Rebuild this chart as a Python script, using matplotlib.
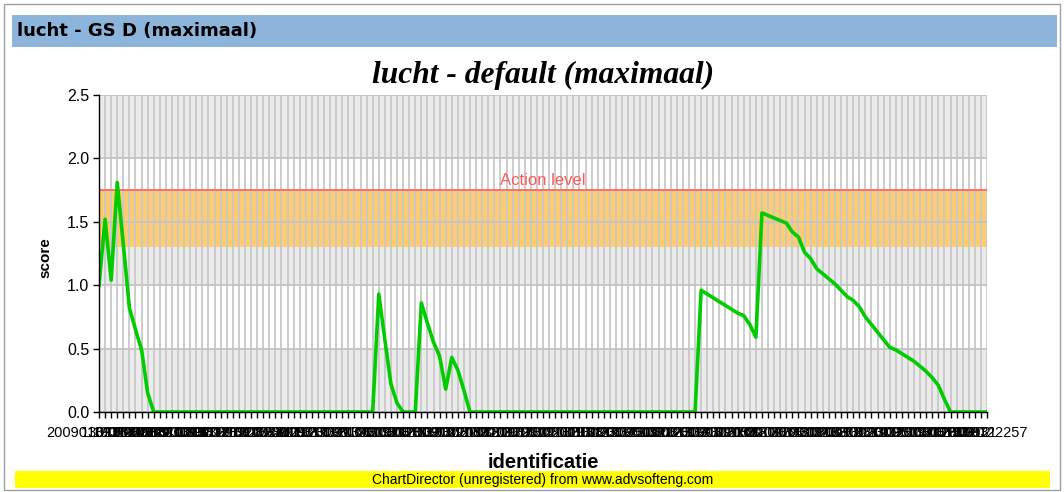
import matplotlib
matplotlib.use("Agg")
import matplotlib.pyplot as plt
from matplotlib.patches import Rectangle

# data
scores = [
    1.00, 1.52, 1.04, 1.81, 1.32, 0.82, 0.65, 0.49, 0.15, 0.00,
    0.00, 0.00, 0.00, 0.00, 0.00, 0.00, 0.00, 0.00, 0.00, 0.00,
    0.00, 0.00, 0.00, 0.00, 0.00, 0.00, 0.00, 0.00, 0.00, 0.00,
    0.00, 0.00, 0.00, 0.00, 0.00, 0.00, 0.00, 0.00, 0.00, 0.00,
    0.00, 0.00, 0.00, 0.00, 0.00, 0.00, 0.93, 0.57, 0.22, 0.07,
    0.00, 0.00, 0.00, 0.86, 0.70, 0.55, 0.44, 0.18, 0.43, 0.33,
    0.17, 0.00, 0.00, 0.00, 0.00, 0.00, 0.00, 0.00, 0.00, 0.00,
    0.00, 0.00, 0.00, 0.00, 0.00, 0.00, 0.00, 0.00, 0.00, 0.00,
    0.00, 0.00, 0.00, 0.00, 0.00, 0.00, 0.00, 0.00, 0.00, 0.00,
    0.00, 0.00, 0.00, 0.00, 0.00, 0.00, 0.00, 0.00, 0.00, 0.96,
    0.93, 0.90, 0.87, 0.84, 0.81, 0.78, 0.76, 0.69, 0.59, 1.57,
    1.55, 1.53, 1.51, 1.49, 1.42, 1.38, 1.26, 1.21, 1.13, 1.09,
    1.05, 1.01, 0.96, 0.91, 0.88, 0.83, 0.75, 0.69, 0.63, 0.57,
    0.51, 0.49, 0.46, 0.43, 0.40, 0.36, 0.32, 0.27, 0.21, 0.10,
    0.00, 0.00, 0.00, 0.00, 0.00, 0.00, 0.00,
]

x_labels = """
2009010913101 130101 3131 190213 0808 130809 3102 120908 200213 2209
130310 0820 121309 2008 310213 1309 1231 0920 201309 1313
301209 0813 2013 121308 3120 0913 1208 203109 1320 0831
122009 3013 0920 1312 2031 0812 1330 2009 3112 1320
0913 2012 3108 1320 0931 2013 1208 3130 0920 1312
2031 0813 1230 2009 3113 1320 0912 2031 1308 3120
0913 1220 3108 1331 0920 2013 1209 3112 0830 2013
1320 0931 2012 1308 3120 0913 1231 2009 1330 0812
2031 1309 3120 0812 1330 2009 3112 1320 0931 2013
1208 3130 0920 1312 2031 0813 1230 2009 3113 1320
0912 2031 1308 3120 0913 1220 3108 1331 0920 2013
1209 3112 0830 2013 1320 0931 2012 1308 3120 0913
1231 2009 1330 0812 2031 1309 3120 0812 1330 2009
3112 1320 0931 2013 1208 3130 0920 1312 2031 0813
1230 2009 3113 1320 0912 2031 2009122257
""".split()

y_ticks = [0.0, 0.5, 1.0, 1.5, 2.0, 2.5]
zone_low, zone_high = 1.3, 1.75
action_level = 1.75

W, H = 1064, 492
fig = plt.figure(figsize=(W / 100, H / 100), dpi=100)
fig.patch.set_facecolor("white")


def px_rect(x0, y0, x1, y1, **kw):
    fig.add_artist(Rectangle((x0 / W, 1 - y1 / H), (x1 - x0) / W, (y1 - y0) / H,
                             transform=fig.transFigure, **kw))


# frame, header bar and footer
px_rect(4, 4, 1060, 490, facecolor="none", edgecolor="#a0a0a0", linewidth=1)
px_rect(12, 15, 1057, 47, facecolor="#8db4da", edgecolor="none")
fig.text(17 / W, 1 - 31 / H, "lucht - GS D (maximaal)", fontsize=13, fontweight="bold",
         family="DejaVu Sans", va="center", ha="left")
px_rect(15, 471, 1050, 488, facecolor="#ffff00", edgecolor="none")
fig.text(543 / W, 1 - 480 / H, "ChartDirector (unregistered) from www.advsofteng.com",
         fontsize=10, family="Liberation Sans", va="center", ha="center")

fig.text(543 / W, 1 - 75 / H, "lucht - default (maximaal)", fontsize=22.7,
         family="Liberation Serif", fontweight="bold", style="italic",
         va="center", ha="center")

ax = fig.add_axes([99 / W, 1 - 412 / H, 888 / W, 317 / H])
n = len(scores)
ax.set_xlim(0, n - 1)
ax.set_ylim(0, 2.5)

# alternating background bands
for i in range(len(y_ticks) - 1):
    ax.axhspan(y_ticks[i], y_ticks[i + 1], color="#ebebeb" if i % 2 == 0 else "white",
               zorder=0, linewidth=0)
ax.axhspan(zone_low, zone_high, color="#fecb6e", zorder=0.5, linewidth=0)

for i in range(n):
    ax.axvline(i, color="#c8c8c8", linewidth=1.3, zorder=1)
for v in y_ticks:
    ax.axhline(v, color="#c4c4c4", linewidth=1.3, zorder=1)

ax.axhline(action_level, color="#ff6464", linewidth=1.3, zorder=2)
ax.text((n - 1) / 2, action_level + 0.02, "Action level", color="#ff5a5a",
        fontsize=12, family="Liberation Sans", ha="center", va="bottom", zorder=2)

ax.plot(range(n), scores, color="#00cc00", linewidth=2.6, zorder=3,
        solid_joinstyle="round")

for s in ["top", "right"]:
    ax.spines[s].set_visible(False)
for s in ["left", "bottom"]:
    ax.spines[s].set_color("black")
    ax.spines[s].set_linewidth(1)
    ax.spines[s].set_zorder(4)

ax.set_yticks(y_ticks)
ax.set_yticklabels([f"{v:.1f}" for v in y_ticks], fontsize=11.5, family="Liberation Sans")
ax.set_xticks(range(n))
ax.set_xticklabels(x_labels, fontsize=10.5, family="Liberation Sans", rotation=0)
ax.tick_params(axis="both", direction="out", length=4, width=1, color="black", pad=3)
ax.tick_params(axis="x", pad=6)

fig.text(45 / W, 1 - 258 / H, "score", fontsize=11, fontweight="bold",
         family="Liberation Sans", rotation=90, va="center", ha="center")
fig.text(543 / W, 1 - 462 / H, "identificatie", fontsize=14.5, fontweight="bold",
         family="Liberation Sans", va="center", ha="center")

fig.savefig("out.png", dpi=100)
